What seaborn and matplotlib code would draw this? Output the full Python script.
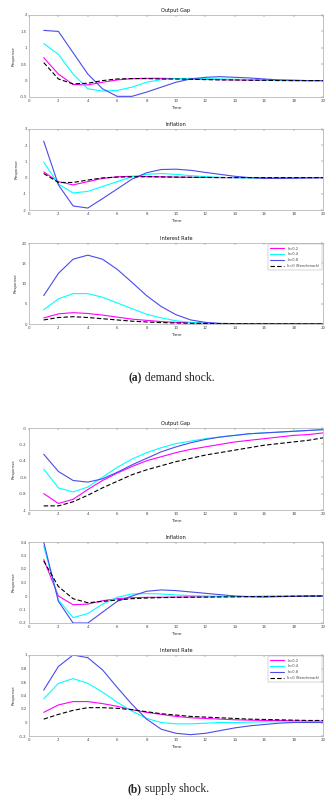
import numpy as np
import pandas as pd
import matplotlib
matplotlib.use("Agg")
import matplotlib.pyplot as plt
import seaborn as sns

sns.set_theme(style="white")
plt.rcParams['font.family'] = ['DejaVu Sans']

periods = list(range(1, 21))
labels = ["h=0.2", "h=0.4", "h=0.8", "h=0 (Benchmark)"]

# Demand shock
dem_gap_02 = [0.70, 0.20, -0.12, -0.13, -0.05, 0.02, 0.06, 0.07, 0.07, 0.06, 0.05, 0.04, 0.03, 0.02, 0.02, 0.01, 0.01, 0.0, 0.0, 0.0]
dem_gap_04 = [1.13, 0.80, 0.20, -0.25, -0.32, -0.30, -0.20, -0.05, 0.03, 0.06, 0.07, 0.06, 0.05, 0.04, 0.03, 0.02, 0.01, 0.01, 0.0, 0.0]
dem_gap_08 = [1.53, 1.50, 0.85, 0.20, -0.25, -0.48, -0.48, -0.35, -0.20, -0.05, 0.05, 0.10, 0.12, 0.10, 0.08, 0.05, 0.02, 0.01, 0.0, 0.0]
dem_gap_bm = [0.55, 0.05, -0.10, -0.08, 0.0, 0.05, 0.06, 0.06, 0.05, 0.05, 0.04, 0.03, 0.02, 0.02, 0.01, 0.01, 0.0, 0.0, 0.0, 0.0]

dem_inf_02 = [0.35, -0.25, -0.45, -0.25, -0.05, 0.05, 0.08, 0.07, 0.05, 0.03, 0.02, 0.01, 0.0, 0.0, 0.0, 0.0, 0.0, 0.0, 0.0, 0.0]
dem_inf_04 = [0.95, -0.40, -0.95, -0.85, -0.55, -0.25, 0.05, 0.20, 0.25, 0.20, 0.12, 0.06, 0.02, -0.01, -0.02, -0.02, -0.01, -0.01, 0.0, 0.0]
dem_inf_08 = [2.25, -0.45, -1.75, -1.88, -1.30, -0.70, -0.10, 0.30, 0.50, 0.52, 0.45, 0.32, 0.20, 0.08, 0.0, -0.05, -0.05, -0.04, -0.02, -0.01]
dem_inf_bm = [0.25, -0.30, -0.30, -0.15, -0.02, 0.03, 0.05, 0.05, 0.04, 0.03, 0.02, 0.01, 0.0, 0.0, 0.0, 0.0, 0.0, 0.0, 0.0, 0.0]

dem_int_02 = [1.5, 2.5, 2.8, 2.6, 2.2, 1.7, 1.2, 0.9, 0.6, 0.4, 0.3, 0.2, 0.1, 0.1, 0.05, 0.05, 0.05, 0.05, 0.05, 0.05]
dem_int_04 = [3.5, 6.2, 7.5, 7.5, 6.6, 5.2, 3.8, 2.4, 1.5, 0.8, 0.4, 0.2, 0.1, 0.05, 0.05, 0.05, 0.05, 0.05, 0.05, 0.05]
dem_int_08 = [7.0, 12.5, 16.0, 17.0, 16.0, 13.5, 10.3, 7.0, 4.3, 2.3, 1.0, 0.4, 0.15, 0.1, 0.1, 0.1, 0.1, 0.1, 0.1, 0.1]
dem_int_bm = [1.0, 1.6, 1.8, 1.6, 1.3, 1.0, 0.7, 0.5, 0.35, 0.25, 0.18, 0.12, 0.08, 0.05, 0.03, 0.02, 0.01, 0.01, 0.0, 0.0]

# Supply shock
sup_gap_02 = [-0.80, -0.92, -0.87, -0.75, -0.64, -0.55, -0.47, -0.40, -0.35, -0.30, -0.26, -0.23, -0.20, -0.17, -0.15, -0.13, -0.11, -0.09, -0.08, -0.06]
sup_gap_04 = [-0.50, -0.73, -0.78, -0.72, -0.60, -0.48, -0.38, -0.30, -0.24, -0.19, -0.16, -0.13, -0.11, -0.09, -0.07, -0.06, -0.05, -0.04, -0.03, -0.02]
sup_gap_08 = [-0.32, -0.53, -0.64, -0.66, -0.62, -0.54, -0.45, -0.37, -0.29, -0.23, -0.18, -0.14, -0.11, -0.09, -0.07, -0.06, -0.05, -0.04, -0.03, -0.02]
sup_gap_bm = [-0.95, -0.95, -0.90, -0.82, -0.73, -0.65, -0.57, -0.51, -0.46, -0.41, -0.37, -0.33, -0.30, -0.27, -0.24, -0.21, -0.19, -0.17, -0.15, -0.12]

sup_inf_02 = [0.27, 0.0, -0.065, -0.06, -0.035, -0.02, -0.012, -0.01, -0.009, -0.008, -0.007, -0.006, -0.005, -0.005, -0.004, -0.003, -0.003, -0.002, -0.001, 0.0]
sup_inf_04 = [0.37, -0.03, -0.16, -0.13, -0.06, -0.01, 0.015, 0.018, 0.015, 0.008, 0.003, 0.0, -0.002, -0.003, -0.003, -0.002, -0.001, 0.0, 0.0, 0.0]
sup_inf_08 = [0.40, -0.04, -0.20, -0.20, -0.12, -0.04, 0.0, 0.035, 0.045, 0.04, 0.03, 0.02, 0.01, 0.0, -0.005, -0.008, -0.005, -0.003, 0.0, 0.0]
sup_inf_bm = [0.26, 0.07, -0.02, -0.05, -0.04, -0.03, -0.02, -0.015, -0.012, -0.01, -0.009, -0.008, -0.007, -0.006, -0.005, -0.004, -0.003, -0.002, -0.001, 0.0]

sup_int_02 = [0.15, 0.26, 0.31, 0.31, 0.28, 0.24, 0.19, 0.15, 0.12, 0.09, 0.07, 0.06, 0.05, 0.04, 0.035, 0.03, 0.03, 0.025, 0.02, 0.02]
sup_int_04 = [0.35, 0.58, 0.65, 0.58, 0.45, 0.30, 0.17, 0.06, 0.0, -0.02, -0.02, -0.01, 0.0, 0.0, 0.005, 0.01, 0.01, 0.01, 0.01, 0.01]
sup_int_08 = [0.48, 0.83, 1.00, 0.96, 0.78, 0.52, 0.27, 0.05, -0.10, -0.16, -0.18, -0.16, -0.12, -0.08, -0.05, -0.03, -0.01, 0.0, 0.0, 0.0]
sup_int_bm = [0.05, 0.12, 0.18, 0.22, 0.22, 0.21, 0.19, 0.16, 0.13, 0.11, 0.09, 0.08, 0.07, 0.06, 0.05, 0.045, 0.04, 0.035, 0.03, 0.03]

titles = ["Output Gap", "Inflation", "Interest Rate"]

panels = [
    (titles[0], [dem_gap_02, dem_gap_04, dem_gap_08, dem_gap_bm], (-0.5, 2), np.arange(-0.5, 2.01, 0.5), False),
    (titles[1], [dem_inf_02, dem_inf_04, dem_inf_08, dem_inf_bm], (-2, 3), np.arange(-2, 3.01, 1), False),
    (titles[2], [dem_int_02, dem_int_04, dem_int_08, dem_int_bm], (0, 20), np.arange(0, 20.01, 5), True),
    (titles[0], [sup_gap_02, sup_gap_04, sup_gap_08, sup_gap_bm], (-1, 0), np.arange(-1, 0.001, 0.2), False),
    (titles[1], [sup_inf_02, sup_inf_04, sup_inf_08, sup_inf_bm], (-0.2, 0.4), np.arange(-0.2, 0.401, 0.1), False),
    (titles[2], [sup_int_02, sup_int_04, sup_int_08, sup_int_bm], (-0.2, 1), np.arange(-0.2, 1.001, 0.2), True),
]

W, H = 336, 799
rects_px = [(15, 97), (129, 210), (243, 324), (428, 510), (542, 623), (655, 736)]
left_px, right_px = 29, 323

palette = {labels[0]: "#ff00ff", labels[1]: "#00ffff", labels[2]: "#4a4aee", labels[3]: "#000000"}
dashes = {labels[0]: "", labels[1]: "", labels[2]: "", labels[3]: (4, 2)}

fig = plt.figure(figsize=(W / 100, H / 100), dpi=100)

def fmt(v):
    return "%g" % round(v, 4)

for (title, series, ylim, yticks, legend), (top, bot) in zip(panels, rects_px):
    ax = fig.add_axes([left_px / W, 1 - bot / H, (right_px - left_px) / W, (bot - top) / H])
    df = pd.DataFrame({
        "Time": periods * 4,
        "Response": sum(series, []),
        "Case": sum([[lab] * len(periods) for lab in labels], []),
    })
    sns.lineplot(data=df, x="Time", y="Response", hue="Case", style="Case",
                 palette=palette, dashes=dashes, hue_order=labels, style_order=labels,
                 linewidth=0.8, ax=ax, legend=legend)
    ax.set_xlim(0, 20)
    ax.set_ylim(*ylim)
    ax.set_xticks(np.arange(0, 21, 2))
    ax.set_yticks(yticks)
    ax.set_yticklabels([fmt(v) for v in yticks])
    ax.tick_params(axis="both", labelsize=2.8, length=1.5, width=0.3, direction="in",
                   pad=1.5, colors="#555555", top=True, right=True)
    ax.tick_params(axis="both", labelcolor="#444444")
    for sp in ax.spines.values():
        sp.set_color("#aaaaaa")
        sp.set_linewidth(0.5)
    ax.set_xlabel("Time", fontsize=3.2, labelpad=2, color="#333333")
    ax.set_ylabel("Response", fontsize=3.0, labelpad=3, color="#333333")
    ax.set_title(title, fontsize=3.6, pad=2, color="#111111")
    if legend:
        leg = ax.legend(loc="upper right", fontsize=2.6, frameon=True, fancybox=False,
                        borderpad=0.6, handlelength=4, labelspacing=0.5, borderaxespad=0.4)
        leg.get_frame().set_linewidth(0.3)
        leg.get_frame().set_edgecolor("#888888")
        for t in leg.get_texts():
            t.set_color("#444444")

for (txt_b, txt_r, ypx, cxp) in [("(a)", " demand shock.", 378, 142), ("(b)", " supply shock.", 789, 142)]:
    cx = cxp / W
    fig.text(cx, 1 - ypx / H, txt_b, fontsize=8.4, fontweight="bold", family="Liberation Serif",
             ha="right", va="center")
    fig.text(cx, 1 - ypx / H, txt_r, fontsize=8.4, family="Liberation Serif",
             ha="left", va="center")

fig.savefig("out.png", dpi=100, facecolor="white")
